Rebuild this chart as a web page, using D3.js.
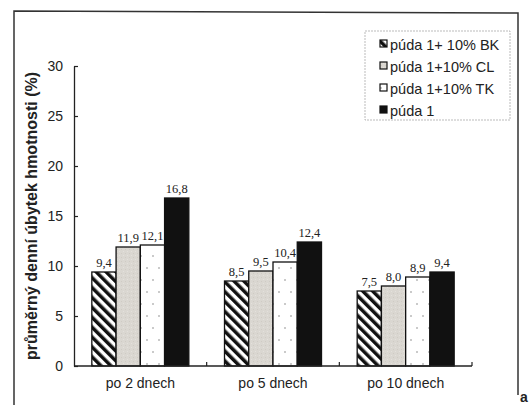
<!DOCTYPE html>
<html><head><meta charset="utf-8">
<script src="https://cdn.jsdelivr.net/npm/d3@7/dist/d3.min.js"></script>
<style>body{margin:0;background:#fff;} svg{display:block;}</style>
</head><body>
<svg id="c" width="532" height="405"></svg>
<script>
const categories = ["po 2 dnech", "po 5 dnech", "po 10 dnech"];
const seriesNames = ["púda 1+ 10% BK", "púda 1+10% CL", "púda 1+10% TK", "púda 1"];
const bk = [9.4, 8.5, 7.5];
const cl = [11.9, 9.5, 8.0];
const tk = [12.1, 10.4, 8.9];
const p1 = [16.8, 12.4, 9.4];
const yTicks = [0, 5, 10, 15, 20, 25, 30];
const yTitle = "průměrný denní úbytek hmotnosti (%)";

const series = [bk, cl, tk, p1];
const svg = d3.select("#c");
const defs = svg.append("defs");
// hatch
const h = defs.append("pattern").attr("id","hatch").attr("patternUnits","userSpaceOnUse")
  .attr("width",7).attr("height",7).attr("patternTransform","rotate(-45)");
h.append("rect").attr("width",7).attr("height",7).attr("fill","#fff");
h.append("rect").attr("width",3.5).attr("height",7).attr("fill","#111");
// dots
const dp = defs.append("pattern").attr("id","dots").attr("patternUnits","userSpaceOnUse")
  .attr("width",12).attr("height",24);
dp.append("rect").attr("width",12).attr("height",24).attr("fill","#fff");
dp.append("circle").attr("cx",3).attr("cy",4).attr("r",0.8).attr("fill","#888");
dp.append("circle").attr("cx",9).attr("cy",16).attr("r",0.8).attr("fill","#888");
// gray speckle
const gp = defs.append("pattern").attr("id","gray").attr("patternUnits","userSpaceOnUse")
  .attr("width",4).attr("height",4);
gp.append("rect").attr("width",4).attr("height",4).attr("fill","#dad7d1");
gp.append("rect").attr("x",1).attr("y",1).attr("width",1).attr("height",1).attr("fill","#cfcbc4");
gp.append("rect").attr("x",3).attr("y",3).attr("width",1).attr("height",1).attr("fill","#e4e1dc");
const fills = ["url(#hatch)", "url(#gray)", "url(#dots)", "#111"];

// frame
svg.append("path").attr("d","M14,420 L14,11 L518,13 L518,395")
  .attr("fill","none").attr("stroke","#333").attr("stroke-width",1.5);
svg.append("text").attr("x",520).attr("y",402).attr("font-family","Liberation Sans, Arial, sans-serif")
  .attr("font-size",14).attr("font-weight","bold").attr("fill","#222").text("a");

const x0 = 74, x1 = 472, yTop = 66, yBot = 366;
const x = d3.scaleBand().domain(categories).range([x0, x1]);
const xs = d3.scaleBand().domain(d3.range(4)).range([0, 97]);
const y = d3.scaleLinear().domain([0, 30]).range([yBot, yTop]);

const font = "Liberation Sans, Arial, sans-serif";

// bars
categories.forEach((c, i) => {
  const gx = x(c) + x.bandwidth()/2 - 48.5;
  series.forEach((s, k) => {
    svg.append("rect").attr("x", gx + xs(k)).attr("y", y(s[i]))
      .attr("width", xs.bandwidth()).attr("height", yBot - y(s[i]))
      .attr("fill", fills[k]).attr("stroke","#111").attr("stroke-width",1.3);
    svg.append("text").attr("x", gx + xs(k) + xs.bandwidth()/2).attr("y", y(s[i]) - 5)
      .attr("text-anchor","middle").attr("font-family","Liberation Serif, Times New Roman, serif")
      .attr("font-size",12.5).attr("fill","#222").text(String(s[i]).replace(".", ",").replace(/^(\d+)$/, "$1,0"));
  });
});

// y axis
const ya = svg.append("g").attr("transform",`translate(${x0},0)`)
  .call(d3.axisLeft(y).tickValues(yTicks).tickSizeInner(-4).tickSizeOuter(0).tickPadding(11));
ya.select(".domain").attr("stroke","#222").attr("stroke-width",1.3);
ya.selectAll(".tick line").attr("stroke","#222").attr("stroke-width",1.2);
ya.selectAll(".tick text").attr("font-family",font).attr("font-size",14).attr("fill","#222");

// x axis
const xa = svg.append("g").attr("transform",`translate(0,${yBot})`)
  .call(d3.axisBottom(x).tickSize(0).tickPadding(12));
xa.select(".domain").remove();
xa.selectAll(".tick text").attr("font-family",font).attr("font-size",14).attr("fill","#222");
svg.append("line").attr("x1",x0).attr("x2",x1).attr("y1",yBot).attr("y2",yBot)
  .attr("stroke","#222").attr("stroke-width",1.3);
const bounds = categories.map(c => x(c)).concat([x1]).slice(1);
svg.selectAll(".xt").data(bounds).enter().append("line")
  .attr("x1",d=>d).attr("x2",d=>d).attr("y1",yBot).attr("y2",yBot-4)
  .attr("stroke","#222").attr("stroke-width",1.2);

// y title
svg.append("text").attr("transform",`translate(37,${(yTop+yBot)/2}) rotate(-90)`)
  .attr("text-anchor","middle").attr("font-family",font).attr("font-size",16).attr("font-weight","bold")
  .attr("fill","#222").text(yTitle);

// legend
svg.append("rect").attr("x",365).attr("y",31).attr("width",145).attr("height",89)
  .attr("fill","#fff").attr("stroke","#aaa").attr("stroke-width",0.8).attr("stroke-dasharray","2,1");
const lg = svg.append("g");
seriesNames.forEach((n, k) => {
  const ly = 45 + k*22;
  lg.append("rect").attr("x",380).attr("y",ly-5).attr("width",7).attr("height",7)
    .attr("fill", k===0 ? "url(#hatch)" : fills[k]).attr("stroke","#111").attr("stroke-width",1.2);
  lg.append("text").attr("x",390).attr("y",ly+5).attr("font-family",font).attr("font-size",14.5)
    .attr("fill","#222").text(n);
});
</script>
</body></html>
